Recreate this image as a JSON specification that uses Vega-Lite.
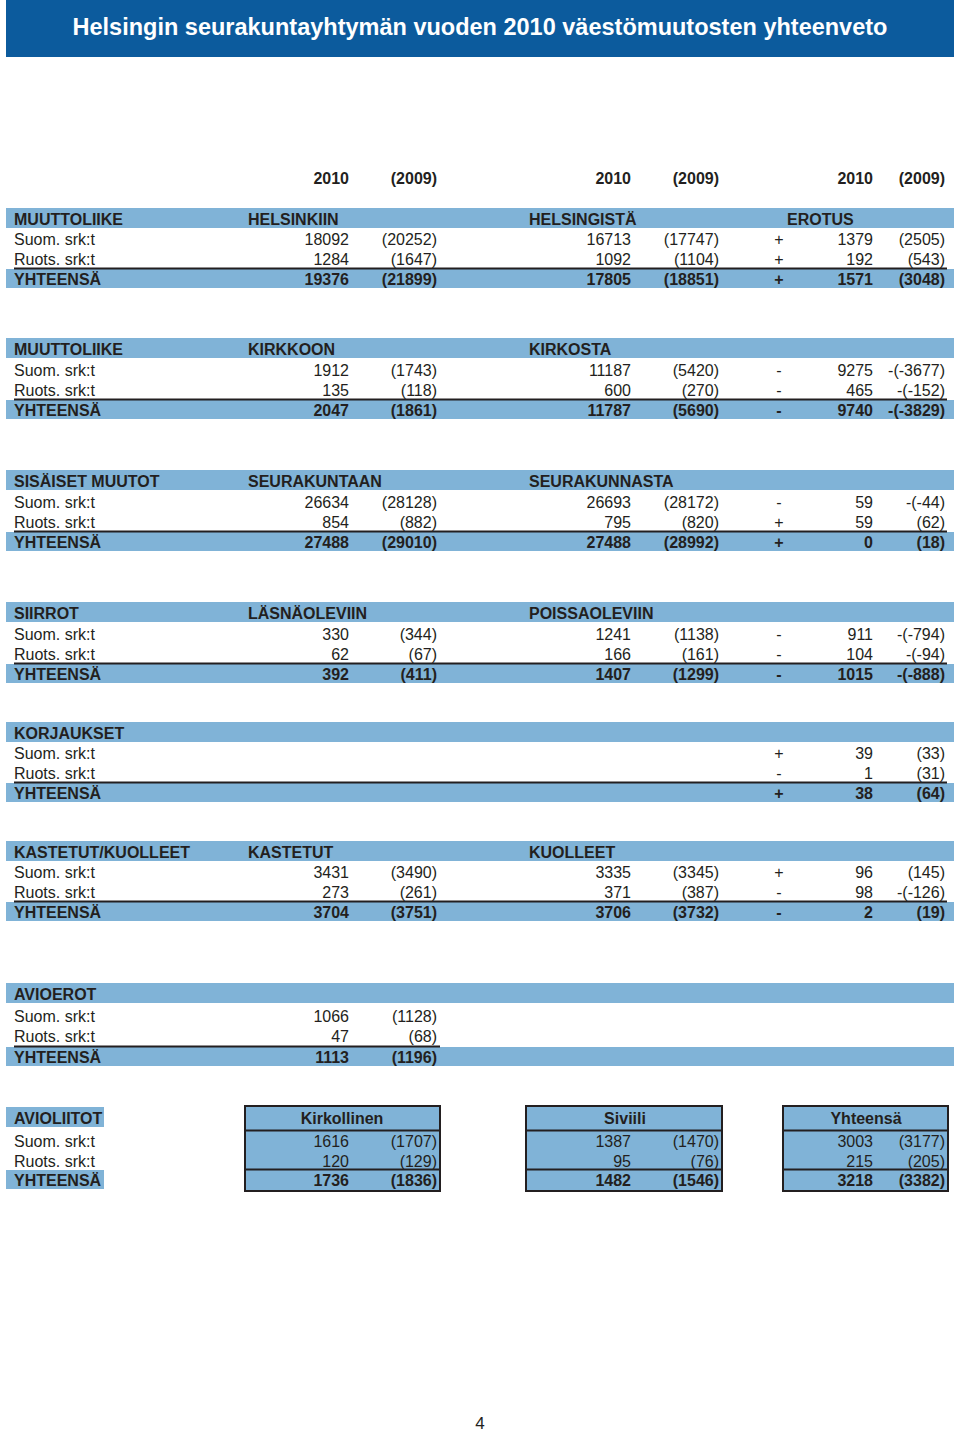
{
  "$schema": "https://vega.github.io/schema/vega-lite/v6.json",
  "width": 960,
  "height": 1435,
  "padding": 0,
  "autosize": {"type": "none"},
  "background": "white",
  "config": {"view": {"stroke": null}},
  "datasets": {
    "banner": [{"row": -1, "row2": -1, "col": 0, "col2": 24}],
    "bands": [
      {"row": 1, "row2": 1, "col": 0, "col2": 24, "kind": "header"},
      {"row": 4, "row2": 4, "col": 0, "col2": 24, "kind": "total"},
      {"row": 5, "row2": 5, "col": 0, "col2": 24, "kind": "header"},
      {"row": 8, "row2": 8, "col": 0, "col2": 24, "kind": "total"},
      {"row": 9, "row2": 9, "col": 0, "col2": 24, "kind": "header"},
      {"row": 12, "row2": 12, "col": 0, "col2": 24, "kind": "total"},
      {"row": 13, "row2": 13, "col": 0, "col2": 24, "kind": "header"},
      {"row": 16, "row2": 16, "col": 0, "col2": 24, "kind": "total"},
      {"row": 17, "row2": 17, "col": 0, "col2": 24, "kind": "header"},
      {"row": 20, "row2": 20, "col": 0, "col2": 24, "kind": "total"},
      {"row": 21, "row2": 21, "col": 0, "col2": 24, "kind": "header"},
      {"row": 24, "row2": 24, "col": 0, "col2": 24, "kind": "total"},
      {"row": 25, "row2": 25, "col": 0, "col2": 24, "kind": "header"},
      {"row": 28, "row2": 28, "col": 0, "col2": 24, "kind": "total"},
      {"row": 29, "row2": 29, "col": 0, "col2": 2, "kind": "header"},
      {"row": 32, "row2": 32, "col": 0, "col2": 2, "kind": "total"}
    ],
    "boxes": [
      {"row": 29, "row2": 32, "col": 3, "col2": 8},
      {"row": 29, "row2": 32, "col": 10, "col2": 15},
      {"row": 29, "row2": 32, "col": 17, "col2": 23}
    ],
    "rules": [
      {"row": 4, "col": 1, "col2": 22},
      {"row": 8, "col": 1, "col2": 22},
      {"row": 12, "col": 1, "col2": 22},
      {"row": 16, "col": 1, "col2": 22},
      {"row": 20, "col": 1, "col2": 22},
      {"row": 24, "col": 1, "col2": 22},
      {"row": 28, "col": 1, "col2": 8},
      {"row": 30, "col": 3, "col2": 8},
      {"row": 32, "col": 3, "col2": 8},
      {"row": 30, "col": 10, "col2": 15},
      {"row": 32, "col": 10, "col2": 15},
      {"row": 30, "col": 17, "col2": 23},
      {"row": 32, "col": 17, "col2": 23}
    ],
    "cells": [
      {"row": -1, "col": 9, "type": "title", "text": "Helsingin seurakuntayhtymän vuoden 2010 väestömuutosten yhteenveto"},
      {"row": 33, "col": 9, "type": "page", "text": "4"},
      {"row": 0, "col": 6, "type": "years", "text": "2010"},
      {"row": 0, "col": 7, "type": "years", "text": "(2009)"},
      {"row": 0, "col": 13, "type": "years", "text": "2010"},
      {"row": 0, "col": 14, "type": "years", "text": "(2009)"},
      {"row": 0, "col": 20, "type": "years", "text": "2010"},
      {"row": 0, "col": 21, "type": "years", "text": "(2009)"},

      {"row": 1, "col": 1, "type": "header", "text": "MUUTTOLIIKE"},
      {"row": 1, "col": 4, "type": "header", "text": "HELSINKIIN"},
      {"row": 1, "col": 11, "type": "header", "text": "HELSINGISTÄ"},
      {"row": 1, "col": 18, "type": "header", "text": "EROTUS"},
      {"row": 2, "col": 1, "type": "data", "text": "Suom. srk:t"},
      {"row": 2, "col": 6, "type": "data", "text": "18092"},
      {"row": 2, "col": 7, "type": "data", "text": "(20252)"},
      {"row": 2, "col": 13, "type": "data", "text": "16713"},
      {"row": 2, "col": 14, "type": "data", "text": "(17747)"},
      {"row": 2, "col": 16, "type": "data", "text": "+"},
      {"row": 2, "col": 20, "type": "data", "text": "1379"},
      {"row": 2, "col": 21, "type": "data", "text": "(2505)"},
      {"row": 3, "col": 1, "type": "data", "text": "Ruots. srk:t"},
      {"row": 3, "col": 6, "type": "data", "text": "1284"},
      {"row": 3, "col": 7, "type": "data", "text": "(1647)"},
      {"row": 3, "col": 13, "type": "data", "text": "1092"},
      {"row": 3, "col": 14, "type": "data", "text": "(1104)"},
      {"row": 3, "col": 16, "type": "data", "text": "+"},
      {"row": 3, "col": 20, "type": "data", "text": "192"},
      {"row": 3, "col": 21, "type": "data", "text": "(543)"},
      {"row": 4, "col": 1, "type": "total", "text": "YHTEENSÄ"},
      {"row": 4, "col": 6, "type": "total", "text": "19376"},
      {"row": 4, "col": 7, "type": "total", "text": "(21899)"},
      {"row": 4, "col": 13, "type": "total", "text": "17805"},
      {"row": 4, "col": 14, "type": "total", "text": "(18851)"},
      {"row": 4, "col": 16, "type": "total", "text": "+"},
      {"row": 4, "col": 20, "type": "total", "text": "1571"},
      {"row": 4, "col": 21, "type": "total", "text": "(3048)"},

      {"row": 5, "col": 1, "type": "header", "text": "MUUTTOLIIKE"},
      {"row": 5, "col": 4, "type": "header", "text": "KIRKKOON"},
      {"row": 5, "col": 11, "type": "header", "text": "KIRKOSTA"},
      {"row": 6, "col": 1, "type": "data", "text": "Suom. srk:t"},
      {"row": 6, "col": 6, "type": "data", "text": "1912"},
      {"row": 6, "col": 7, "type": "data", "text": "(1743)"},
      {"row": 6, "col": 13, "type": "data", "text": "11187"},
      {"row": 6, "col": 14, "type": "data", "text": "(5420)"},
      {"row": 6, "col": 16, "type": "data", "text": "-"},
      {"row": 6, "col": 20, "type": "data", "text": "9275"},
      {"row": 6, "col": 21, "type": "data", "text": "-(-3677)"},
      {"row": 7, "col": 1, "type": "data", "text": "Ruots. srk:t"},
      {"row": 7, "col": 6, "type": "data", "text": "135"},
      {"row": 7, "col": 7, "type": "data", "text": "(118)"},
      {"row": 7, "col": 13, "type": "data", "text": "600"},
      {"row": 7, "col": 14, "type": "data", "text": "(270)"},
      {"row": 7, "col": 16, "type": "data", "text": "-"},
      {"row": 7, "col": 20, "type": "data", "text": "465"},
      {"row": 7, "col": 21, "type": "data", "text": "-(-152)"},
      {"row": 8, "col": 1, "type": "total", "text": "YHTEENSÄ"},
      {"row": 8, "col": 6, "type": "total", "text": "2047"},
      {"row": 8, "col": 7, "type": "total", "text": "(1861)"},
      {"row": 8, "col": 13, "type": "total", "text": "11787"},
      {"row": 8, "col": 14, "type": "total", "text": "(5690)"},
      {"row": 8, "col": 16, "type": "total", "text": "-"},
      {"row": 8, "col": 20, "type": "total", "text": "9740"},
      {"row": 8, "col": 21, "type": "total", "text": "-(-3829)"},

      {"row": 9, "col": 1, "type": "header", "text": "SISÄISET MUUTOT"},
      {"row": 9, "col": 4, "type": "header", "text": "SEURAKUNTAAN"},
      {"row": 9, "col": 11, "type": "header", "text": "SEURAKUNNASTA"},
      {"row": 10, "col": 1, "type": "data", "text": "Suom. srk:t"},
      {"row": 10, "col": 6, "type": "data", "text": "26634"},
      {"row": 10, "col": 7, "type": "data", "text": "(28128)"},
      {"row": 10, "col": 13, "type": "data", "text": "26693"},
      {"row": 10, "col": 14, "type": "data", "text": "(28172)"},
      {"row": 10, "col": 16, "type": "data", "text": "-"},
      {"row": 10, "col": 20, "type": "data", "text": "59"},
      {"row": 10, "col": 21, "type": "data", "text": "-(-44)"},
      {"row": 11, "col": 1, "type": "data", "text": "Ruots. srk:t"},
      {"row": 11, "col": 6, "type": "data", "text": "854"},
      {"row": 11, "col": 7, "type": "data", "text": "(882)"},
      {"row": 11, "col": 13, "type": "data", "text": "795"},
      {"row": 11, "col": 14, "type": "data", "text": "(820)"},
      {"row": 11, "col": 16, "type": "data", "text": "+"},
      {"row": 11, "col": 20, "type": "data", "text": "59"},
      {"row": 11, "col": 21, "type": "data", "text": "(62)"},
      {"row": 12, "col": 1, "type": "total", "text": "YHTEENSÄ"},
      {"row": 12, "col": 6, "type": "total", "text": "27488"},
      {"row": 12, "col": 7, "type": "total", "text": "(29010)"},
      {"row": 12, "col": 13, "type": "total", "text": "27488"},
      {"row": 12, "col": 14, "type": "total", "text": "(28992)"},
      {"row": 12, "col": 16, "type": "total", "text": "+"},
      {"row": 12, "col": 20, "type": "total", "text": "0"},
      {"row": 12, "col": 21, "type": "total", "text": "(18)"},

      {"row": 13, "col": 1, "type": "header", "text": "SIIRROT"},
      {"row": 13, "col": 4, "type": "header", "text": "LÄSNÄOLEVIIN"},
      {"row": 13, "col": 11, "type": "header", "text": "POISSAOLEVIIN"},
      {"row": 14, "col": 1, "type": "data", "text": "Suom. srk:t"},
      {"row": 14, "col": 6, "type": "data", "text": "330"},
      {"row": 14, "col": 7, "type": "data", "text": "(344)"},
      {"row": 14, "col": 13, "type": "data", "text": "1241"},
      {"row": 14, "col": 14, "type": "data", "text": "(1138)"},
      {"row": 14, "col": 16, "type": "data", "text": "-"},
      {"row": 14, "col": 20, "type": "data", "text": "911"},
      {"row": 14, "col": 21, "type": "data", "text": "-(-794)"},
      {"row": 15, "col": 1, "type": "data", "text": "Ruots. srk:t"},
      {"row": 15, "col": 6, "type": "data", "text": "62"},
      {"row": 15, "col": 7, "type": "data", "text": "(67)"},
      {"row": 15, "col": 13, "type": "data", "text": "166"},
      {"row": 15, "col": 14, "type": "data", "text": "(161)"},
      {"row": 15, "col": 16, "type": "data", "text": "-"},
      {"row": 15, "col": 20, "type": "data", "text": "104"},
      {"row": 15, "col": 21, "type": "data", "text": "-(-94)"},
      {"row": 16, "col": 1, "type": "total", "text": "YHTEENSÄ"},
      {"row": 16, "col": 6, "type": "total", "text": "392"},
      {"row": 16, "col": 7, "type": "total", "text": "(411)"},
      {"row": 16, "col": 13, "type": "total", "text": "1407"},
      {"row": 16, "col": 14, "type": "total", "text": "(1299)"},
      {"row": 16, "col": 16, "type": "total", "text": "-"},
      {"row": 16, "col": 20, "type": "total", "text": "1015"},
      {"row": 16, "col": 21, "type": "total", "text": "-(-888)"},

      {"row": 17, "col": 1, "type": "header", "text": "KORJAUKSET"},
      {"row": 18, "col": 1, "type": "data", "text": "Suom. srk:t"},
      {"row": 18, "col": 16, "type": "data", "text": "+"},
      {"row": 18, "col": 20, "type": "data", "text": "39"},
      {"row": 18, "col": 21, "type": "data", "text": "(33)"},
      {"row": 19, "col": 1, "type": "data", "text": "Ruots. srk:t"},
      {"row": 19, "col": 16, "type": "data", "text": "-"},
      {"row": 19, "col": 20, "type": "data", "text": "1"},
      {"row": 19, "col": 21, "type": "data", "text": "(31)"},
      {"row": 20, "col": 1, "type": "total", "text": "YHTEENSÄ"},
      {"row": 20, "col": 16, "type": "total", "text": "+"},
      {"row": 20, "col": 20, "type": "total", "text": "38"},
      {"row": 20, "col": 21, "type": "total", "text": "(64)"},

      {"row": 21, "col": 1, "type": "header", "text": "KASTETUT/KUOLLEET"},
      {"row": 21, "col": 4, "type": "header", "text": "KASTETUT"},
      {"row": 21, "col": 11, "type": "header", "text": "KUOLLEET"},
      {"row": 22, "col": 1, "type": "data", "text": "Suom. srk:t"},
      {"row": 22, "col": 6, "type": "data", "text": "3431"},
      {"row": 22, "col": 7, "type": "data", "text": "(3490)"},
      {"row": 22, "col": 13, "type": "data", "text": "3335"},
      {"row": 22, "col": 14, "type": "data", "text": "(3345)"},
      {"row": 22, "col": 16, "type": "data", "text": "+"},
      {"row": 22, "col": 20, "type": "data", "text": "96"},
      {"row": 22, "col": 21, "type": "data", "text": "(145)"},
      {"row": 23, "col": 1, "type": "data", "text": "Ruots. srk:t"},
      {"row": 23, "col": 6, "type": "data", "text": "273"},
      {"row": 23, "col": 7, "type": "data", "text": "(261)"},
      {"row": 23, "col": 13, "type": "data", "text": "371"},
      {"row": 23, "col": 14, "type": "data", "text": "(387)"},
      {"row": 23, "col": 16, "type": "data", "text": "-"},
      {"row": 23, "col": 20, "type": "data", "text": "98"},
      {"row": 23, "col": 21, "type": "data", "text": "-(-126)"},
      {"row": 24, "col": 1, "type": "total", "text": "YHTEENSÄ"},
      {"row": 24, "col": 6, "type": "total", "text": "3704"},
      {"row": 24, "col": 7, "type": "total", "text": "(3751)"},
      {"row": 24, "col": 13, "type": "total", "text": "3706"},
      {"row": 24, "col": 14, "type": "total", "text": "(3732)"},
      {"row": 24, "col": 16, "type": "total", "text": "-"},
      {"row": 24, "col": 20, "type": "total", "text": "2"},
      {"row": 24, "col": 21, "type": "total", "text": "(19)"},

      {"row": 25, "col": 1, "type": "header", "text": "AVIOEROT"},
      {"row": 26, "col": 1, "type": "data", "text": "Suom. srk:t"},
      {"row": 26, "col": 6, "type": "data", "text": "1066"},
      {"row": 26, "col": 7, "type": "data", "text": "(1128)"},
      {"row": 27, "col": 1, "type": "data", "text": "Ruots. srk:t"},
      {"row": 27, "col": 6, "type": "data", "text": "47"},
      {"row": 27, "col": 7, "type": "data", "text": "(68)"},
      {"row": 28, "col": 1, "type": "total", "text": "YHTEENSÄ"},
      {"row": 28, "col": 6, "type": "total", "text": "1113"},
      {"row": 28, "col": 7, "type": "total", "text": "(1196)"},

      {"row": 29, "col": 1, "type": "header", "text": "AVIOLIITOT"},
      {"row": 29, "col": 5, "type": "header", "text": "Kirkollinen"},
      {"row": 29, "col": 12, "type": "header", "text": "Siviili"},
      {"row": 29, "col": 19, "type": "header", "text": "Yhteensä"},
      {"row": 30, "col": 1, "type": "data", "text": "Suom. srk:t"},
      {"row": 30, "col": 6, "type": "data", "text": "1616"},
      {"row": 30, "col": 7, "type": "data", "text": "(1707)"},
      {"row": 30, "col": 13, "type": "data", "text": "1387"},
      {"row": 30, "col": 14, "type": "data", "text": "(1470)"},
      {"row": 30, "col": 20, "type": "data", "text": "3003"},
      {"row": 30, "col": 21, "type": "data", "text": "(3177)"},
      {"row": 31, "col": 1, "type": "data", "text": "Ruots. srk:t"},
      {"row": 31, "col": 6, "type": "data", "text": "120"},
      {"row": 31, "col": 7, "type": "data", "text": "(129)"},
      {"row": 31, "col": 13, "type": "data", "text": "95"},
      {"row": 31, "col": 14, "type": "data", "text": "(76)"},
      {"row": 31, "col": 20, "type": "data", "text": "215"},
      {"row": 31, "col": 21, "type": "data", "text": "(205)"},
      {"row": 32, "col": 1, "type": "total", "text": "YHTEENSÄ"},
      {"row": 32, "col": 6, "type": "total", "text": "1736"},
      {"row": 32, "col": 7, "type": "total", "text": "(1836)"},
      {"row": 32, "col": 13, "type": "total", "text": "1482"},
      {"row": 32, "col": 14, "type": "total", "text": "(1546)"},
      {"row": 32, "col": 20, "type": "total", "text": "3218"},
      {"row": 32, "col": 21, "type": "total", "text": "(3382)"}
    ]
  },
  "encoding": {
    "x": {
      "field": "col", "type": "quantitative", "axis": null,
      "scale": {
        "type": "linear", "nice": false, "zero": false,
        "domain": [0,1,2,3,4,5,6,7,8,9,10,11,12,13,14,15,16,17,18,19,20,21,22,23,24],
        "range": [6,14,104,245,248,342,349,437,440,480,526,529,625,631,719,722,779,783,787,866,873,945,947,948,954]
      }
    },
    "y": {
      "field": "row", "type": "quantitative", "axis": null,
      "scale": {
        "type": "linear", "nice": false, "zero": false,
        "domain": [-1,0,1,2,3,4,5,6,7,8,9,10,11,12,13,14,15,16,17,18,19,20,21,22,23,24,25,26,27,28,29,30,31,32,33],
        "range": [27,178,219,239,259,279,349,370,390,410,481,502,522,542,613,634,654,674,733,753,773,793,852,872,892,912,994,1016,1036,1057,1118,1141,1161,1180,1424]
      }
    }
  },
  "layer": [
    {
      "data": {"name": "banner"},
      "mark": {"type": "rect", "color": "#0c5b9d", "yOffset": -27, "y2Offset": 30},
      "encoding": {"x2": {"field": "col2"}, "y2": {"field": "row2"}}
    },
    {
      "data": {"name": "bands"},
      "transform": [{"filter": "datum.kind == 'header'"}],
      "mark": {"type": "rect", "color": "#80b3d7", "yOffset": -11, "y2Offset": 9},
      "encoding": {"x2": {"field": "col2"}, "y2": {"field": "row2"}}
    },
    {
      "data": {"name": "bands"},
      "transform": [{"filter": "datum.kind == 'total'"}],
      "mark": {"type": "rect", "color": "#80b3d7", "yOffset": -10, "y2Offset": 9},
      "encoding": {"x2": {"field": "col2"}, "y2": {"field": "row2"}}
    },
    {
      "data": {"name": "boxes"},
      "mark": {"type": "rect", "fill": "#80b3d7", "stroke": "#231f20", "strokeWidth": 2, "yOffset": -12, "y2Offset": 11},
      "encoding": {"x2": {"field": "col2"}, "y2": {"field": "row2"}}
    },
    {
      "data": {"name": "rules"},
      "mark": {"type": "rule", "color": "#231f20", "strokeWidth": 2, "yOffset": -10.5},
      "encoding": {"x2": {"field": "col2"}}
    },
    {
      "data": {"name": "cells"},
      "transform": [{"filter": "datum.type == 'title'"}],
      "mark": {"type": "text", "font": "Liberation Sans", "fontWeight": "bold", "fontSize": 23.5, "color": "#ffffff", "align": "center", "baseline": "middle", "dy": 1},
      "encoding": {"text": {"field": "text"}}
    },
    {
      "data": {"name": "cells"},
      "transform": [{"filter": "datum.type == 'page'"}],
      "mark": {"type": "text", "font": "Liberation Sans", "fontSize": 17, "color": "#231f20", "align": "center", "baseline": "middle"},
      "encoding": {"text": {"field": "text"}}
    },
    {
      "data": {"name": "cells"},
      "transform": [{"filter": "datum.type == 'data' && indexof([1,4,11,18], datum.col) >= 0"}],
      "mark": {"type": "text", "font": "Liberation Sans", "fontSize": 16, "color": "#231f20", "align": "left", "baseline": "middle", "dy": 1},
      "encoding": {"text": {"field": "text"}}
    },
    {
      "data": {"name": "cells"},
      "transform": [{"filter": "datum.type != 'data' && datum.type != 'title' && datum.type != 'page' && indexof([1,4,11,18], datum.col) >= 0"}],
      "mark": {"type": "text", "font": "Liberation Sans", "fontWeight": "bold", "fontSize": 16, "color": "#231f20", "align": "left", "baseline": "middle", "dy": 1},
      "encoding": {"text": {"field": "text"}}
    },
    {
      "data": {"name": "cells"},
      "transform": [{"filter": "datum.type == 'data' && indexof([6,7,13,14,20,21], datum.col) >= 0"}],
      "mark": {"type": "text", "font": "Liberation Sans", "fontSize": 16, "color": "#231f20", "align": "right", "baseline": "middle", "dy": 1},
      "encoding": {"text": {"field": "text"}}
    },
    {
      "data": {"name": "cells"},
      "transform": [{"filter": "datum.type != 'data' && indexof([6,7,13,14,20,21], datum.col) >= 0"}],
      "mark": {"type": "text", "font": "Liberation Sans", "fontWeight": "bold", "fontSize": 16, "color": "#231f20", "align": "right", "baseline": "middle", "dy": 1},
      "encoding": {"text": {"field": "text"}}
    },
    {
      "data": {"name": "cells"},
      "transform": [{"filter": "datum.type == 'data' && indexof([5,12,16,19], datum.col) >= 0"}],
      "mark": {"type": "text", "font": "Liberation Sans", "fontSize": 16, "color": "#231f20", "align": "center", "baseline": "middle", "dy": 1},
      "encoding": {"text": {"field": "text"}}
    },
    {
      "data": {"name": "cells"},
      "transform": [{"filter": "datum.type != 'data' && datum.type != 'title' && datum.type != 'page' && indexof([5,12,16,19], datum.col) >= 0"}],
      "mark": {"type": "text", "font": "Liberation Sans", "fontWeight": "bold", "fontSize": 16, "color": "#231f20", "align": "center", "baseline": "middle", "dy": 1},
      "encoding": {"text": {"field": "text"}}
    }
  ]
}
